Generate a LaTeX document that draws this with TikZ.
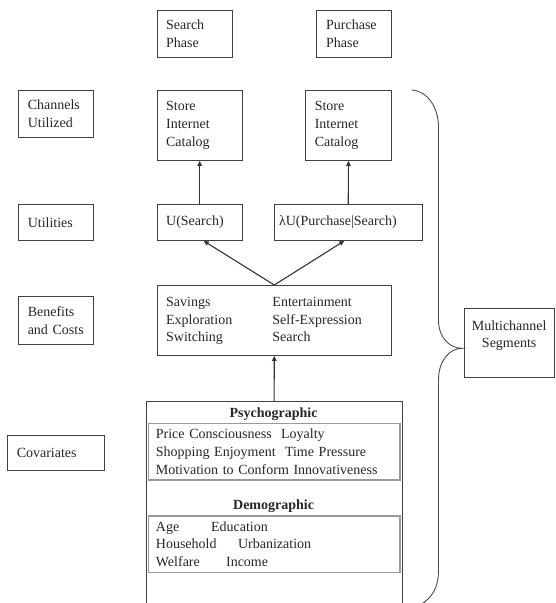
\documentclass[tikz,border=0pt]{standalone}
\usepackage{fontspec}
\setmainfont{Liberation Serif}
\usetikzlibrary{arrows.meta}
\begin{document}
\begin{tikzpicture}[x=1pt,y=-1pt,
  txt/.style={font=\fontsize{14}{17.8}\selectfont, text=black!85},
  box/.style={txt, draw=black!75, line width=0.9pt, anchor=north west, inner sep=0pt, align=left},
  inbox/.style={txt, draw=black!40, line width=1.4pt, anchor=north west, inner sep=0pt, align=left},
  arr/.style={draw=black!80, line width=1.1pt, -{Triangle[length=5pt,width=4.5pt]}}]
\useasboundingbox (0,0) rectangle (555,603);

% phase headings
\node[box, minimum width=75pt, minimum height=46.7pt, text width=57pt] (sp) at (156.7,10) {Search\\Phase};
\node[box, minimum width=74.7pt, minimum height=46.7pt, text width=55.3pt] (pp) at (316,10) {Purchase\\Phase};

% row labels
\node[box, minimum width=75pt, minimum height=47.3pt, text width=57pt] (cu) at (18.3,90) {Channels\\Utilized};
\node[box, minimum width=75pt, minimum height=36pt, text width=57pt] (ut) at (18.3,204) {Utilities};
\node[box, minimum width=75pt, minimum height=48pt, text width=57pt] (bc) at (18.3,296) {Benefits\\and Costs};
\node[box, minimum width=96.7pt, minimum height=35pt, text width=78.7pt] (cv) at (7.3,434.5) {Covariates};

% channels
\node[box, minimum width=85pt, minimum height=70pt, text width=67pt] (st1) at (156.7,90) {Store\\Internet\\Catalog};
\node[box, minimum width=85.4pt, minimum height=70pt, text width=67.4pt] (st2) at (305.3,90) {Store\\Internet\\Catalog};

% utilities
\node[box, minimum width=85pt, minimum height=36pt, text width=67pt] (u1) at (156.7,204) {U(Search)};
\node[box, minimum width=148.4pt, minimum height=36pt, text width=138.4pt] (u2) at (273.6,204) {λU(Purchase|Search)};

% benefits and costs
\node[box, minimum width=234.3pt, minimum height=70pt, text width=216.3pt] (ben) at (156.7,285)
  {\begin{tabular}{@{}p{106.3pt}@{}l@{}}Savings & Entertainment\\ Exploration & Self-Expression\\ Switching & Search\end{tabular}};

% multichannel segments
\node[box, align=center, minimum width=89.5pt, minimum height=69pt, text width=89.5pt] (ms) at (464,308) {Multichannel\\Segments\\\mbox{}};

% covariates container (open at the bottom)
\node[anchor=north west, minimum width=255.8pt, minimum height=210pt, inner sep=0pt] (cbox) at (146,401.7) {};
\draw[draw=black!75, line width=0.9pt] (cbox.south west) |- (cbox.north east) -- (cbox.south east);
\node[txt, font=\fontsize{14}{17.8}\selectfont\bfseries] (psy) at (273.6,414.5) {Psychographic};
\node[inbox, minimum width=251.6pt, minimum height=56.3pt, text width=236.6pt] (in1) at (147.7,423)
  {Price Consciousness\ \ Loyalty\\Shopping Enjoyment\ \ Time Pressure\\Motivation to Conform Innovativeness};
\node[txt, font=\fontsize{14}{17.8}\selectfont\bfseries] (dem) at (273.6,506.5) {Demographic};
\node[inbox, minimum width=251.6pt, minimum height=56.4pt, text width=236.6pt] (in2) at (147.7,515.3)
  {\makebox[55.2pt][l]{Age}Education\\\makebox[82.2pt][l]{Household}Urbanization\\\makebox[70.2pt][l]{Welfare}Income};

% arrows
\draw[arr] (u1.north) -- (st1.south);
\draw[arr] (u2.north) -- (st2.south);
\draw[arr] (ben.north) -- ([xshift=4pt]u1.south);
\draw[arr] (ben.north) -- ([xshift=-4pt]u2.south);
\draw[arr] (cbox.north) -- (ben.south);

% brace
\coordinate (tip) at (462,348.3);
\draw[draw=black!70, line width=0.9pt]
  (411.7,90) .. controls (428,91) and (438.5,108) .. (438.5,127)
  -- (438.5,320) .. controls (438.5,338) and (450,348.3) .. (tip)
  .. controls (450,348.3) and (438.5,360) .. (438.5,380)
  -- (438.5,570) .. controls (438.5,588) and (432,598) .. (420,605);
\end{tikzpicture}
\end{document}
